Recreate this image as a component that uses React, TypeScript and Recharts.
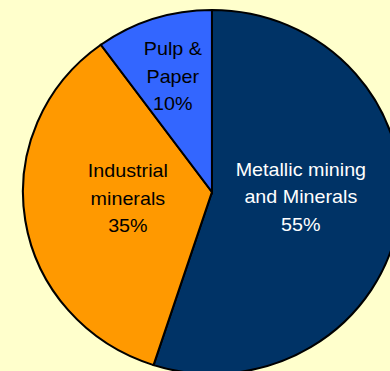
import { PieChart, Pie, Cell } from "recharts";

const categories = ["Metallic mining and Minerals", "Industrial minerals", "Pulp & Paper"];
const shares = [55, 35, 10];
const labelLines = [
  ["Metallic mining", "and Minerals", "55%"],
  ["Industrial", "minerals", "35%"],
  ["Pulp &", "Paper", "10%"],
];
const colors = ["#003366", "#FF9900", "#3366FF"];
const textColors = ["#FFFFFF", "#000000", "#000000"];

const data = categories.map((name, i) => ({ name, value: shares[i] }));

// label placement: radius as a fraction of outer radius, angle tweak in degrees
const labelPlace = [
  { r: 0.471, da: 6 },
  { r: 0.446, da: -4.8 },
  { r: 0.67, da: 0 },
];

const RAD = Math.PI / 180;
const STRETCH = 1.0385;

function renderLabel(props: any) {
  const { cx, cy, midAngle, outerRadius, index } = props;
  const p = labelPlace[index];
  const a = (midAngle + p.da) * RAD;
  const x = cx + outerRadius * p.r * Math.cos(a);
  const y = cy - outerRadius * p.r * Math.sin(a);
  const lines = labelLines[index];
  return (
    <text
      x={x}
      y={y}
      textAnchor="middle"
      fill={textColors[index]}
      fontFamily="'Liberation Sans', Arial, sans-serif"
      fontSize={19}
    >
      {lines.map((l, k) => (
        <tspan key={k} x={x} y={y + (k - 1) * 27.5} dominantBaseline="central">
          {l}
        </tspan>
      ))}
    </text>
  );
}

export default function App() {
  return (
    <div
      style={{
        position: "fixed",
        left: 0,
        top: 0,
        width: 390,
        height: 371,
        overflow: "hidden",
        background: "#FFFFCC",
      }}
    >
      <div style={{ transform: `scale(${STRETCH}, 1)`, transformOrigin: "0 0", width: 376, height: 371 }}>
        <PieChart width={376} height={371} margin={{ top: 0, right: 0, bottom: 0, left: 0 }}>
          <Pie
            data={data}
            dataKey="value"
            cx={204.1}
            cy={192}
            outerRadius={182}
            startAngle={90}
            endAngle={-270}
            stroke="#000000"
            strokeWidth={2}
            labelLine={false}
            label={renderLabel}
            isAnimationActive={false}
          >
            {data.map((d, i) => (
              <Cell key={d.name} fill={colors[i]} />
            ))}
          </Pie>
        </PieChart>
      </div>
    </div>
  );
}
